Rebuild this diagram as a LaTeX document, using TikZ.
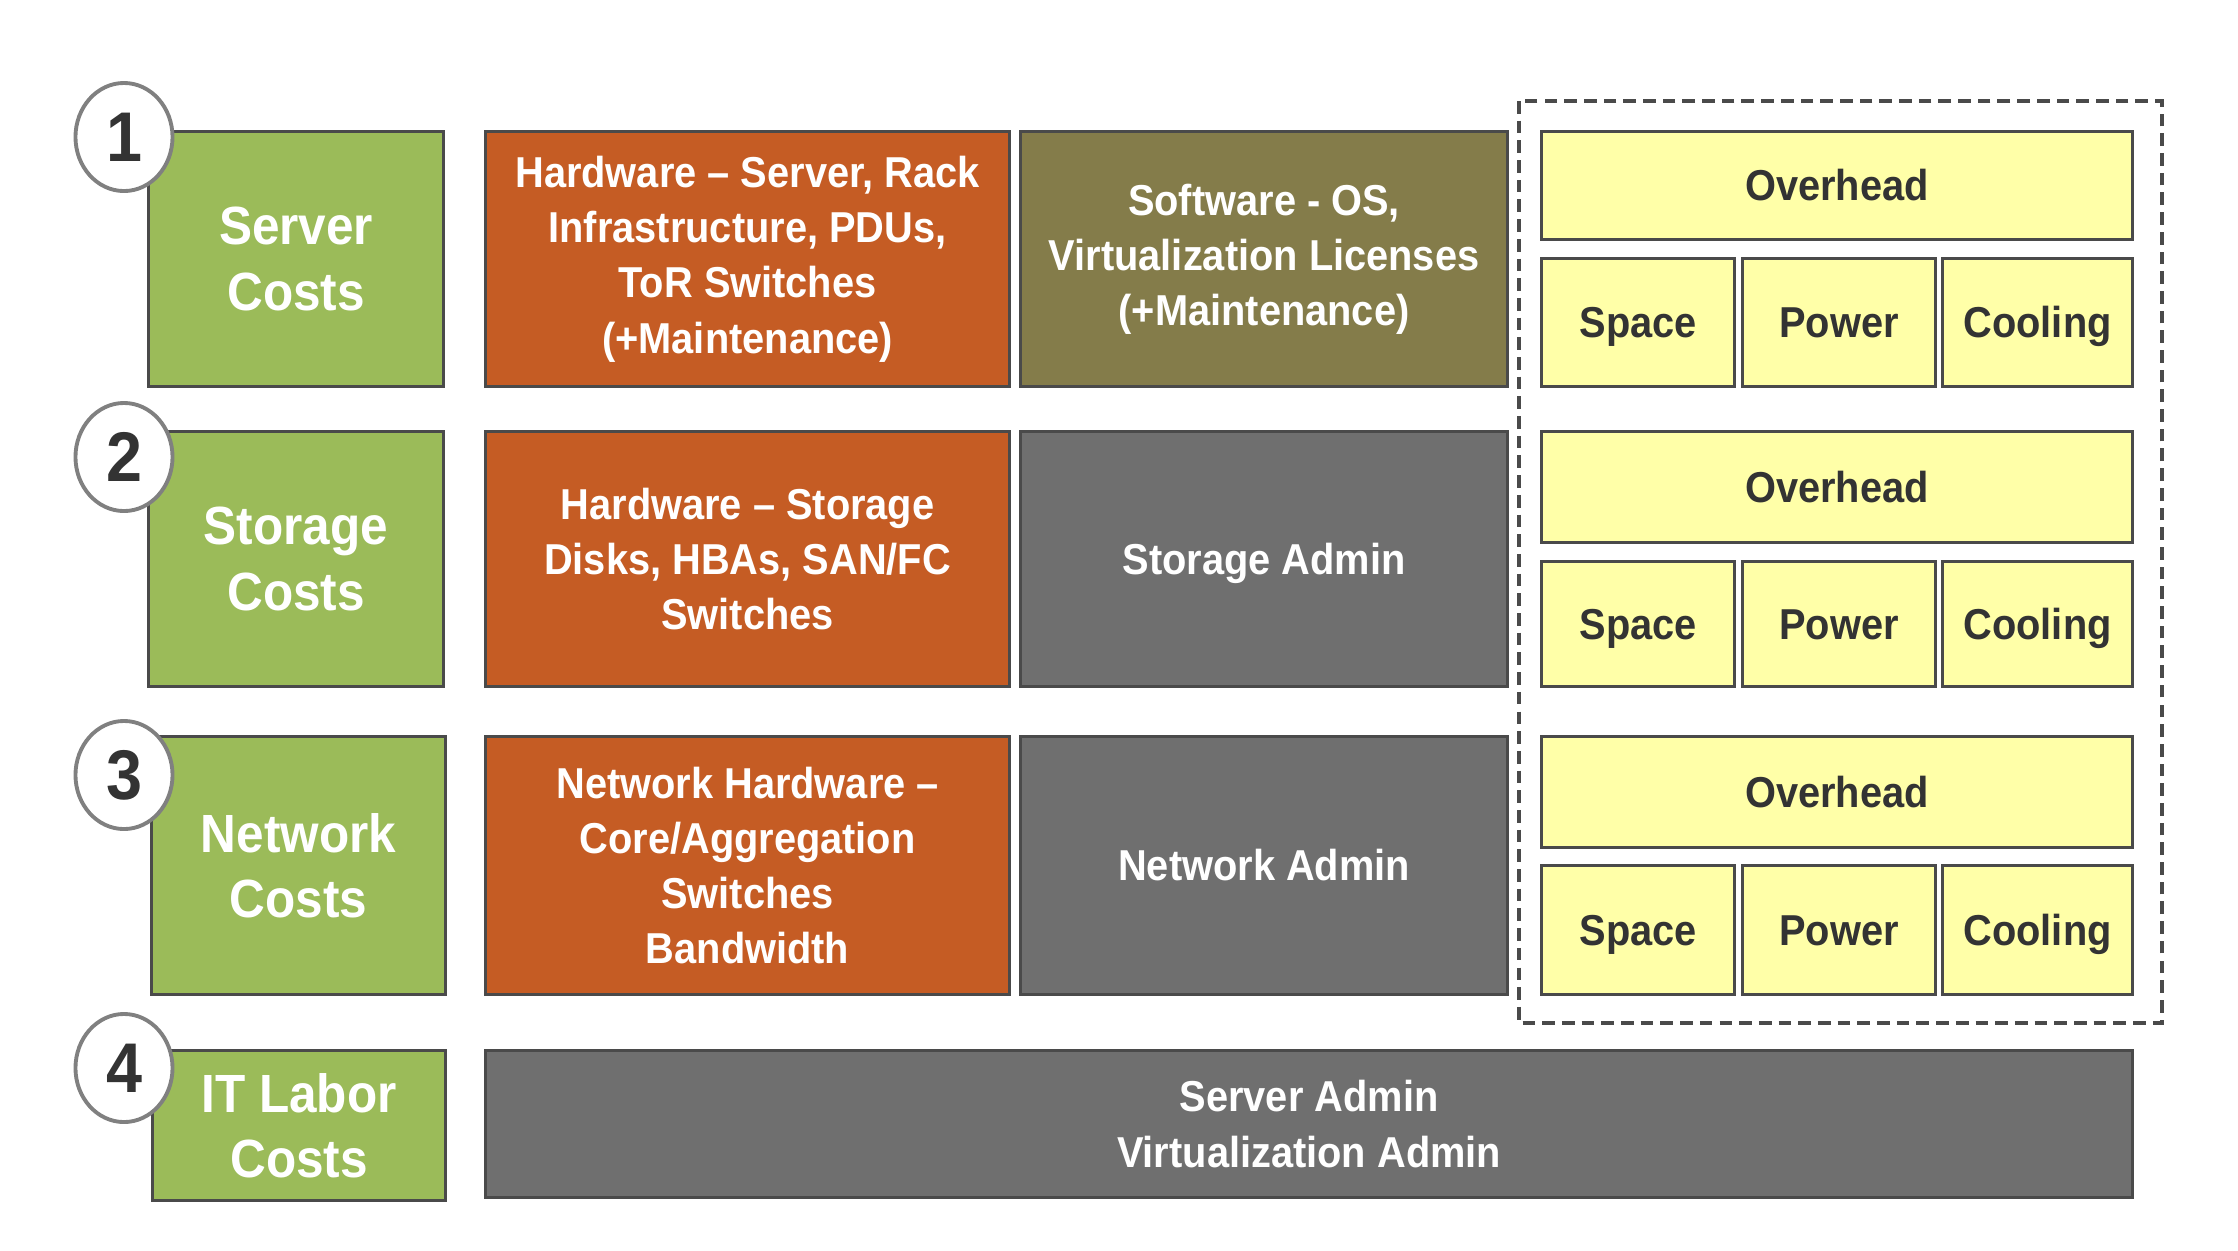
\documentclass[tikz,border=0pt]{standalone}
\usepackage{fontspec}
\setmainfont[FakeStretch=0.92]{Liberation Sans}
\usetikzlibrary{shapes.geometric}
\definecolor{costgreen}{HTML}{9BBB59}
\definecolor{hworange}{HTML}{C55C24}
\definecolor{swolive}{HTML}{847C4A}
\definecolor{admingray}{HTML}{6F6F6F}
\definecolor{ohyellow}{HTML}{FFFFA8}
\definecolor{edgegray}{HTML}{4A4A4A}
\definecolor{inkgray}{HTML}{333333}
% block: name, style, x1, y1, x2, y2, text
\newcommand\blk[7]{%
  \node[#2, anchor=north west,
        minimum width={(#5-#3)*0.01cm}, minimum height={(#6-#4)*0.01cm}]
    (#1) at (#3,#4) {#7};}
\begin{document}
\begin{tikzpicture}[x=0.01cm, y=-0.01cm,
  box/.style={draw=edgegray, line width=0.9pt, inner sep=0pt, align=center},
  oneline/.style={text height=9.2pt, text depth=0.6pt},
  catbox/.style={box, fill=costgreen, text=white,
                 font=\bfseries\fontsize{15.3}{18.6}\selectfont},
  hwbox/.style={box, fill=hworange, text=white,
                font=\bfseries\fontsize{12.3}{15.7}\selectfont},
  swbox/.style={box, fill=swolive, text=white,
                font=\bfseries\fontsize{12.3}{15.7}\selectfont},
  adminbox/.style={box, fill=admingray, text=white,
                   font=\bfseries\fontsize{12.3}{15.7}\selectfont},
  ohbox/.style={box, oneline, fill=ohyellow, text=inkgray,
                font=\bfseries\fontsize{12.3}{15.7}\selectfont},
  numcirc/.style={ellipse, draw=gray, line width=1.1pt, fill=white,
                  text=inkgray, inner sep=0pt,
                  minimum width=0.97cm, minimum height=1.08cm,
                  font=\bfseries\fontsize{20}{24}\selectfont},
  grouping/.style={draw=edgegray, line width=1.2pt,
                   dash pattern=on 3.6pt off 2pt}]
\useasboundingbox (0,0) rectangle (2238,1250);

% dashed frame around the facility overhead blocks
\draw[grouping] (1519,101) rectangle (2162,1023);

% row 1: servers
\blk{srv}{catbox}{147}{130}{442}{385}{Server\\Costs}
\blk{srvhw}{hwbox}{484}{130}{1008}{385}{Hardware -- Server, Rack\\Infrastructure, PDUs,\\ToR Switches\\(+Maintenance)}
\blk{srvsw}{swbox}{1019}{130}{1506}{385}{Software - OS,\\Virtualization Licenses\\(+Maintenance)}
\blk{oh1}{ohbox}{1540}{130}{2131}{238}{Overhead}
\blk{sp1}{ohbox}{1540}{257}{1733}{385}{Space}
\blk{pw1}{ohbox}{1741}{257}{1934}{385}{Power}
\blk{cl1}{ohbox}{1941}{257}{2131}{385}{Cooling}

% row 2: storage
\blk{sto}{catbox}{147}{430}{442}{685}{Storage\\Costs}
\blk{stohw}{hwbox}{484}{430}{1008}{685}{Hardware -- Storage\\Disks, HBAs, SAN/FC\\Switches}
\blk{stoad}{adminbox,oneline}{1019}{430}{1506}{685}{Storage Admin}
\blk{oh2}{ohbox}{1540}{430}{2131}{541}{Overhead}
\blk{sp2}{ohbox}{1540}{560}{1733}{685}{Space}
\blk{pw2}{ohbox}{1741}{560}{1934}{685}{Power}
\blk{cl2}{ohbox}{1941}{560}{2131}{685}{Cooling}

% row 3: network
\blk{net}{catbox}{150}{735}{444}{993}{Network\\Costs}
\blk{nethw}{hwbox}{484}{735}{1008}{993}{Network Hardware --\\Core/Aggregation\\Switches\\Bandwidth}
\blk{netad}{adminbox,oneline}{1019}{735}{1506}{993}{Network Admin}
\blk{oh3}{ohbox}{1540}{735}{2131}{846}{Overhead}
\blk{sp3}{ohbox}{1540}{864}{1733}{993}{Space}
\blk{pw3}{ohbox}{1741}{864}{1934}{993}{Power}
\blk{cl3}{ohbox}{1941}{864}{2131}{993}{Cooling}

% row 4: labor
\blk{lab}{catbox}{151}{1049}{444}{1199}{IT Labor\\Costs}
\blk{labad}{adminbox}{484}{1049}{2131}{1196}{Server Admin\\Virtualization Admin}

% numbered markers
\node[numcirc] (n1) at (124,137) {1};
\node[numcirc] (n2) at (124,457) {2};
\node[numcirc] (n3) at (124,775) {3};
\node[numcirc] (n4) at (124,1068) {4};
\end{tikzpicture}
\end{document}
